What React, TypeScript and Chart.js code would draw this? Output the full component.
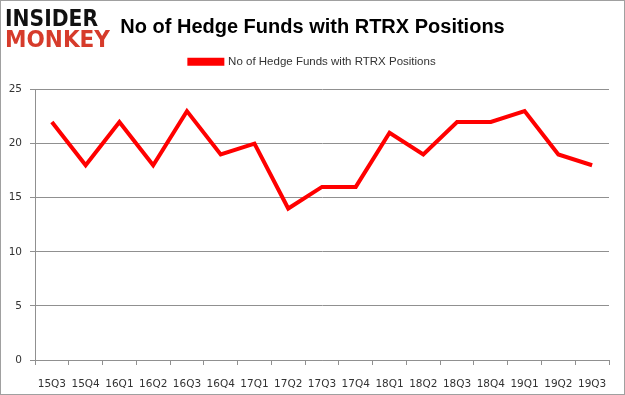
import React, { useEffect, useRef } from "react";
import { Chart, registerables } from "chart.js";

Chart.register(...registerables);

const categories = ["15Q3","15Q4","16Q1","16Q2","16Q3","16Q4","17Q1","17Q2","17Q3","17Q4","18Q1","18Q2","18Q3","18Q4","19Q1","19Q2","19Q3"];
const hedgeFunds = [22,18,22,18,23,19,20,14,16,16,21,19,22,22,23,19,18];
const seriesLabel = "No of Hedge Funds with RTRX Positions";
const titleText = "No of Hedge Funds with RTRX Positions";

const decorPlugin = {
  id: "decor",
  afterDraw(chart: any) {
    const ctx = chart.ctx;
    ctx.save();
    ctx.textBaseline = "alphabetic";
    ctx.textAlign = "left";
    ctx.font = "bold 23px 'DejaVu Sans'";
    ctx.fillStyle = "#111111";
    ctx.fillText("INSIDER", 5, 26, 93);
    ctx.fillStyle = "#d63b2b";
    ctx.fillText("MONKEY", 5, 47, 105);
    ctx.strokeStyle = "#a0a0a0";
    ctx.lineWidth = 1;
    ctx.strokeRect(0.5, 0.5, chart.width - 1, chart.height - 1);
    ctx.restore();
  },
};

export default function App() {
  const ref = useRef<HTMLCanvasElement | null>(null);
  useEffect(() => {
    document.body.style.margin = "0";
    const chart = new Chart(ref.current as HTMLCanvasElement, {
      type: "line",
      data: {
        labels: categories,
        datasets: [
          {
            label: seriesLabel,
            data: hedgeFunds,
            borderColor: "#ff0000",
            backgroundColor: "#ff0000",
            borderWidth: 4,
            pointRadius: 0,
            tension: 0,
            yAxisID: "y",
          },
        ],
      },
      options: {
        animation: false,
        responsive: false,
        layout: { padding: 0 },
        plugins: {
          title: {
            display: true,
            text: titleText,
            color: "#000000",
            font: { family: "'Liberation Sans'", size: 20, weight: "bold", lineHeight: 1.2 },
            padding: { top: 15, bottom: 9 },
          },
          subtitle: {
            display: true,
            text: "",
            weight: 500,
            font: { size: 1, lineHeight: 1 },
            padding: { top: 0, bottom: 11 },
          },
          legend: {
            display: true,
            labels: {
              boxWidth: 33,
              boxHeight: 4,
              color: "#333333",
              font: { family: "'Liberation Sans'", size: 11.5 },
              padding: 8,
            },
          },
          tooltip: { enabled: false },
        },
        scales: {
          x: {
            offset: true,
            grid: { display: true, drawOnChartArea: false, color: "#909090", tickLength: 5, offset: true },
            border: { color: "#909090" },
            ticks: { color: "#333333", font: { family: "'DejaVu Sans'", size: 10.5 }, padding: 13, maxRotation: 0, autoSkip: false },
            afterFit: (s: any) => { s.height = 35; },
          },
          y: {
            min: 0,
            max: 25,
            ticks: { stepSize: 5, color: "#333333", font: { family: "'DejaVu Sans'", size: 10.5 }, padding: 8 },
            grid: { color: "#909090", tickLength: 5 },
            border: { color: "#909090" },
            afterFit: (s: any) => { s.width = 35; },
          },
          yr: {
            position: "right",
            display: true,
            min: 0,
            max: 25,
            grid: { display: false },
            border: { display: false },
            ticks: { display: false },
            afterFit: (s: any) => { s.width = 16; },
          },
        },
      },
      plugins: [decorPlugin],
    });
    return () => chart.destroy();
  }, []);
  return <canvas ref={ref} width={625} height={395} style={{ display: "block" }} />;
}
